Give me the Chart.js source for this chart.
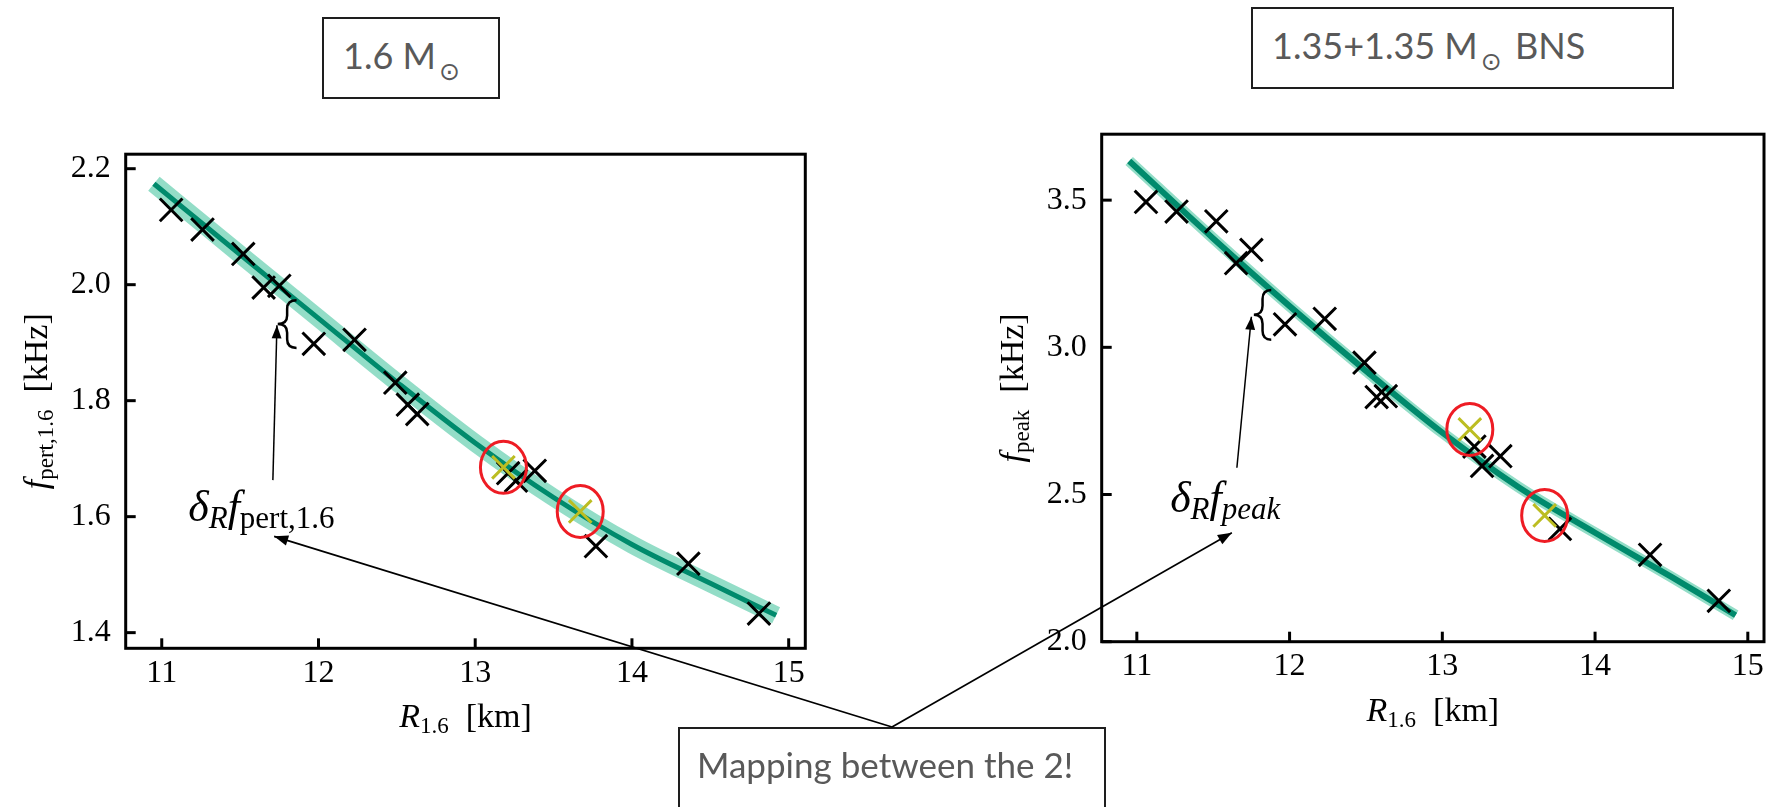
<!DOCTYPE html>
<html>
<head>
<meta charset="utf-8">
<script src="https://cdn.jsdelivr.net/npm/chart.js@4.4.1/dist/chart.umd.min.js"></script>
<style>
  body { margin: 0; background: #fff; }
  #page { position: relative; width: 1783px; height: 807px; overflow: hidden; background: #fff; }
  canvas { position: absolute; }
  .box { position: absolute; border: 2px solid #1e1e1e; }
  .box .t { position: absolute; font-family: Lato, sans-serif; color: #595959; white-space: nowrap; }
  .sun { font-family: "DejaVu Sans", sans-serif; font-size: 25px; position: relative; top: 11px; margin: 0 4px 0 3px; }
</style>
</head>
<body>
<div id="page">
  <canvas id="leftChart" width="830" height="650" style="left:0;top:120px"></canvas>
  <canvas id="rightChart" width="823" height="670" style="left:960px;top:100px"></canvas>
  <div class="box" style="left:322px;top:17px;width:174px;height:78px"><span class="t" style="left:19px;top:18px;font-size:36px;line-height:36px">1.6 M<span class="sun">⊙</span></span></div>
  <div class="box" style="left:1251px;top:7px;width:419px;height:78px"><span class="t" style="left:19px;top:18px;font-size:36px;line-height:36px">1.35+1.35 M<span class="sun">⊙</span> BNS</span></div>
  <div class="box" id="mapBox" style="left:678px;top:727px;width:424px;height:120px"><span class="t" style="left:17px;top:18px;font-size:35px;line-height:35px">Mapping between the 2!</span></div>
  <canvas id="over" width="1783" height="807" style="left:0;top:0;pointer-events:none"></canvas>
</div>
<script>
// R_1.6 of the EOS models (same in both panels)
const radius = [11.06, 11.26, 11.52, 11.65, 11.75, 11.97, 12.23, 12.49, 12.57, 12.63, 13.21, 13.26, 13.38, 13.77, 14.36, 14.81]
const fPert = [2.129, 2.095, 2.053, 1.995, 1.998, 1.898, 1.905, 1.831, 1.793, 1.777, 1.675, 1.662, 1.679, 1.549, 1.519, 1.433]
const fPeak = [3.494, 3.461, 3.428, 3.286, 3.331, 3.078, 3.097, 2.948, 2.831, 2.834, 2.663, 2.597, 2.630, 2.383, 2.295, 2.139]

// the two highlighted models
const radiusHi = [13.18, 13.67]
const fPertHi = [1.685, 1.609]
const fPeakHi = [2.721, 2.429]

// fit curves
const fitR = [10.95, 11.5, 12, 12.5, 13, 13.5, 14, 14.5, 14.92]
const fitPert = [2.174, 2.052, 1.942, 1.832, 1.727, 1.633, 1.552, 1.485, 1.43]
const fitPeak = [3.633, 3.37, 3.14, 2.92, 2.71, 2.525, 2.37, 2.22, 2.09]

const xTicks = [11, 12, 13, 14, 15]
const pertTicks = [1.4, 1.6, 1.8, 2.0, 2.2]
const peakTicks = [2.0, 2.5, 3.0, 3.5]

const SERIF = '"Liberation Serif", "DejaVu Serif", serif'
const pts = (xs, ys) => xs.map((x, i) => ({ x: x, y: ys[i] }))

function textRun(ctx, parts, x, y, measureOnly) {
    let w = 0
    for (const p of parts) {
        ctx.font = p[1]
        if (!measureOnly) ctx.fillText(p[0], x + w, y + (p[2] || 0))
        w += ctx.measureText(p[0]).width
    }
    return w
}

function arrow(ctx, x1, y1, x2, y2, head) {
    ctx.beginPath()
    ctx.moveTo(x1, y1)
    ctx.lineTo(x2, y2)
    ctx.stroke()
    const a = Math.atan2(y2 - y1, x2 - x1)
    ctx.beginPath()
    ctx.moveTo(x2, y2)
    ctx.lineTo(x2 - head * Math.cos(a) + head * 0.38 * Math.sin(a), y2 - head * Math.sin(a) - head * 0.38 * Math.cos(a))
    ctx.lineTo(x2 - head * Math.cos(a) - head * 0.38 * Math.sin(a), y2 - head * Math.sin(a) + head * 0.38 * Math.cos(a))
    ctx.closePath()
    ctx.fill()
}

function brace(ctx, xl, xr, yt, yb) {
    const xm = (xl + xr) / 2, ym = (yt + yb) / 2, q = (yb - yt) * 0.18
    ctx.beginPath()
    ctx.moveTo(xr, yt)
    ctx.quadraticCurveTo(xm, yt, xm, yt + q)
    ctx.lineTo(xm, ym - q)
    ctx.quadraticCurveTo(xm, ym, xl, ym)
    ctx.quadraticCurveTo(xm, ym, xm, ym + q)
    ctx.lineTo(xm, yb - q)
    ctx.quadraticCurveTo(xm, yb, xr, yb)
    ctx.stroke()
}

// frame, inward ticks, axis titles and the annotations
function decor(cfg) {
    return {
        id: 'decor',
        afterDatasetsDraw(chart) {
            const ctx = chart.ctx, xs = chart.scales.x, ys = chart.scales.y
            ctx.save()
            ctx.strokeStyle = '#ee1c24'
            ctx.lineWidth = 3
            cfg.hiX.forEach((v, i) => {
                ctx.beginPath()
                ctx.ellipse(xs.getPixelForValue(v), ys.getPixelForValue(cfg.hiY[i]), 23, 26, 0, 0, Math.PI * 2)
                ctx.stroke()
            })
            ctx.restore()
        },
        afterDraw(chart) {
            const ctx = chart.ctx, a = chart.chartArea, xs = chart.scales.x, ys = chart.scales.y
            ctx.save()
            ctx.strokeStyle = '#000'
            ctx.fillStyle = '#000'
            ctx.lineWidth = 3
            ctx.strokeRect(a.left, a.top, a.right - a.left, a.bottom - a.top)
            for (const t of xs.ticks) {
                const px = xs.getPixelForValue(t.value)
                ctx.beginPath(); ctx.moveTo(px, a.bottom); ctx.lineTo(px, a.bottom - 10); ctx.stroke()
            }
            for (const t of ys.ticks) {
                const py = ys.getPixelForValue(t.value)
                ctx.beginPath(); ctx.moveTo(a.left, py); ctx.lineTo(a.left + 10, py); ctx.stroke()
            }

            // axis titles
            ctx.textBaseline = 'alphabetic'
            let w = textRun(ctx, cfg.xTitle, 0, 0, true)
            textRun(ctx, cfg.xTitle, (a.left + a.right) / 2 - w / 2, a.bottom + 79)
            ctx.save()
            ctx.translate(a.left - 79, (a.top + a.bottom) / 2)
            ctx.rotate(-Math.PI / 2)
            w = textRun(ctx, cfg.yTitle, 0, 0, true)
            textRun(ctx, cfg.yTitle, -w / 2, 0)
            ctx.restore()

            // delta label, small arrow and brace
            const n = cfg.note
            textRun(ctx, n.label, xs.getPixelForValue(n.lx), ys.getPixelForValue(n.ly))
            ctx.lineWidth = 1.5
            arrow(ctx, xs.getPixelForValue(n.ax[0]), ys.getPixelForValue(n.ay[0]),
                xs.getPixelForValue(n.ax[1]), ys.getPixelForValue(n.ay[1]), 13)
            ctx.lineWidth = 2.5
            brace(ctx, xs.getPixelForValue(n.bx[0]), xs.getPixelForValue(n.bx[1]),
                ys.getPixelForValue(n.by[0]), ys.getPixelForValue(n.by[1]))
            ctx.restore()
        }
    }
}

function makeChart(id, fy, fyHi, fitY, yTicks, ymin, ymax, pad, yWidth, cfg) {
    return new Chart(document.getElementById(id), {
        type: 'scatter',
        data: {
            datasets: [
                { data: pts(radiusHi, fyHi), pointStyle: 'crossRot', pointRadius: 16, borderWidth: 3, borderColor: '#bcbd22', order: 0 },
                { data: pts(radius, fy), pointStyle: 'crossRot', pointRadius: 16, borderWidth: 3, borderColor: '#000', order: 1 },
                { data: pts(fitR, fitY), showLine: true, pointRadius: 0, borderWidth: cfg.lineW, borderColor: '#008a6c', cubicInterpolationMode: 'monotone', order: 2 },
                { data: pts(fitR, fitY), showLine: true, pointRadius: 0, borderWidth: cfg.bandW, borderColor: 'rgba(80,200,165,0.62)', cubicInterpolationMode: 'monotone', order: 3 }
            ]
        },
        options: {
            responsive: false,
            animation: false,
            events: [],
            layout: { padding: pad },
            plugins: { legend: { display: false }, tooltip: { enabled: false } },
            scales: {
                x: {
                    type: 'linear', min: 10.77, max: 15.106,
                    grid: { display: false, drawTicks: false }, border: { display: false },
                    afterBuildTicks: (s) => { s.ticks = xTicks.map(v => ({ value: v })) },
                    afterFit: (s) => { s.height = 60 },
                    ticks: { padding: 6, color: '#000', font: { family: SERIF, size: 32 }, maxRotation: 0, callback: v => String(v) }
                },
                y: {
                    type: 'linear', min: ymin, max: ymax,
                    grid: { display: false, drawTicks: false }, border: { display: false },
                    afterBuildTicks: (s) => { s.ticks = yTicks.map(v => ({ value: v })) },
                    afterFit: (s) => { s.width = yWidth },
                    ticks: { padding: 15, color: '#000', font: { family: SERIF, size: 32 }, callback: v => v.toFixed(1) }
                }
            }
        },
        plugins: [decor(cfg)]
    })
}

const IT = 'italic 34px ' + SERIF, RM = '34px ' + SERIF, SUB = '23px ' + SERIF
const BIG = 'italic 44px ' + SERIF, BSUB = '31px ' + SERIF, BSUBI = 'italic 31px ' + SERIF
const xTitle = [['R', IT], ['1.6', SUB, 6], ['  [km]', RM]]

const leftChart = makeChart('leftChart', fPert, fPertHi, fitPert, pertTicks, 1.373, 2.225,
    { top: 19, right: 24.7, left: 0, bottom: 61.7 }, 125.7, {
        lineW: 5, bandW: 18, hiX: radiusHi, hiY: fPertHi, xTitle: xTitle,
        yTitle: [['f', IT], ['pert,1.6', SUB, 6], ['  [kHz]', RM]],
        note: {
            label: [['δ', BIG], ['R', BSUBI, 7], ['f', BIG], ['pert,1.6', BSUB, 7]], lx: 11.169, ly: 1.592,
            ax: [11.709, 11.735], ay: [1.663, 1.93], bx: [11.74, 11.86], by: [1.973, 1.891]
        }
    })

const rightChart = makeChart('rightChart', fPeak, fPeakHi, fitPeak, peakTicks, 2.0, 3.724,
    { top: 33.3, right: 2, left: 0, bottom: 68.3 }, 141.7, {
        lineW: 6, bandW: 11, hiX: radiusHi, hiY: fPeakHi, xTitle: xTitle,
        yTitle: [['f', IT], ['peak', SUB, 6], ['  [kHz]', RM]],
        note: {
            label: [['δ', BIG], ['R', BSUBI, 7], ['f', BIG], ['peak', BSUBI, 7]], lx: 11.218, ly: 2.442,
            ax: [11.655, 11.75], ay: [2.591, 3.104], bx: [11.766, 11.88], by: [3.195, 3.026]
        }
    })

// arrows from the mapping box to both labels
const over = document.getElementById('over').getContext('2d')
const box = document.getElementById('mapBox')
const apexX = box.offsetLeft + box.offsetWidth / 2, apexY = box.offsetTop
over.strokeStyle = '#000'
over.fillStyle = '#000'
over.lineWidth = 1.7
arrow(over, apexX, apexY, leftChart.scales.x.getPixelForValue(11.717), leftChart.scales.y.getPixelForValue(1.566) + 120, 14)
arrow(over, apexX, apexY, rightChart.scales.x.getPixelForValue(11.622) + 960, rightChart.scales.y.getPixelForValue(2.370) + 100, 14)
</script>
</body>
</html>
